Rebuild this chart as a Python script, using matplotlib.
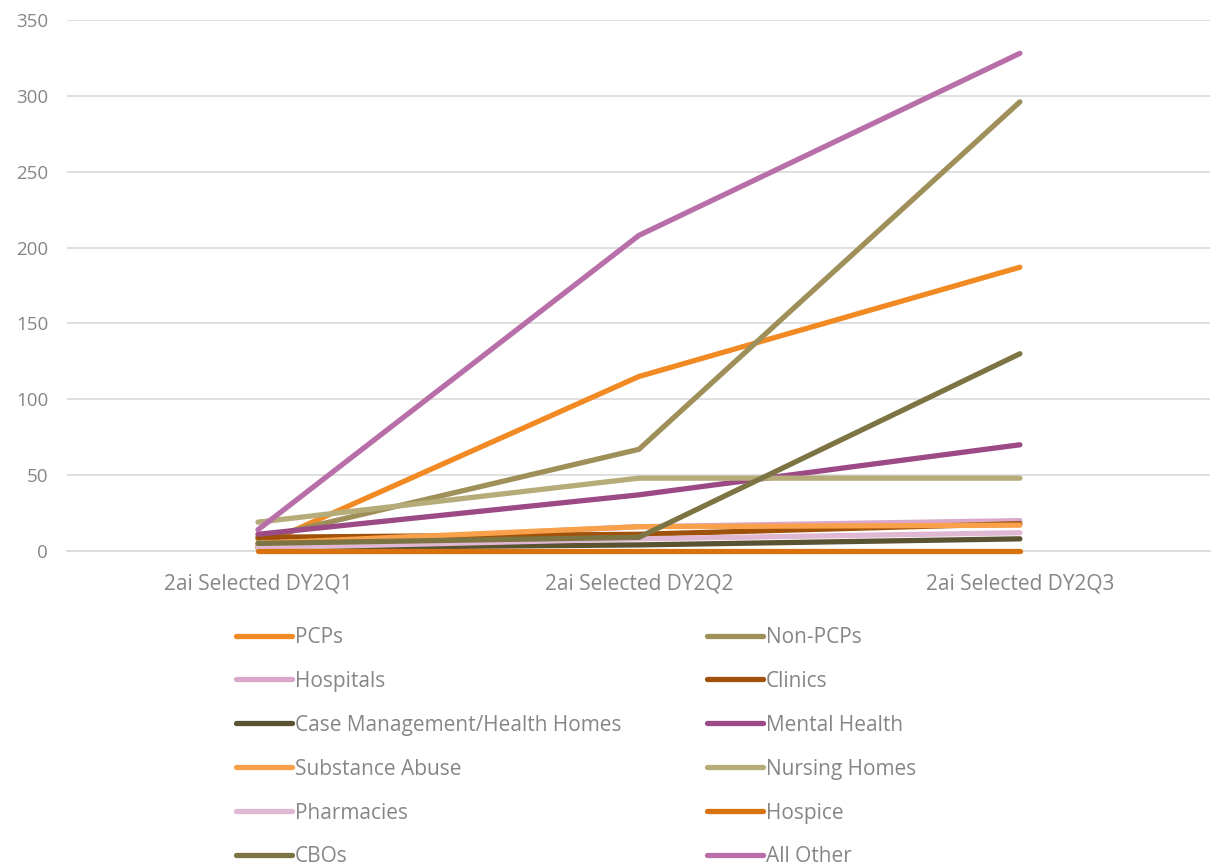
import matplotlib
matplotlib.use('Agg')
import matplotlib.pyplot as plt
from matplotlib.ticker import MultipleLocator

plt.rcParams['font.family'] = ['Open Sans', 'DejaVu Sans']

quarters = ['2ai Selected DY2Q1', '2ai Selected DY2Q2', '2ai Selected DY2Q3']

pcps = [3, 115, 187]
non_pcps = [8, 67, 296]
hospitals = [4, 16, 20]
clinics = [9, 11, 18]
case_mgmt = [2, 4, 8]
mental_health = [11, 37, 70]
substance_abuse = [5, 16, 17]
nursing_homes = [19, 48, 48]
pharmacies = [2, 8, 12]
hospice = [0, 0, 0]
cbos = [5, 9, 130]
all_other = [14, 208, 328]

series = [
    ('PCPs', pcps, '#F28A24'),
    ('Non-PCPs', non_pcps, '#9E9058'),
    ('Hospitals', hospitals, '#D8A7C9'),
    ('Clinics', clinics, '#A0520B'),
    ('Case Management/Health Homes', case_mgmt, '#5A5332'),
    ('Mental Health', mental_health, '#9B4A86'),
    ('Substance Abuse', substance_abuse, '#F9A04A'),
    ('Nursing Homes', nursing_homes, '#B5AC7A'),
    ('Pharmacies', pharmacies, '#E0B8D4'),
    ('Hospice', hospice, '#D8720F'),
    ('CBOs', cbos, '#7D7444'),
    ('All Other', all_other, '#B86EA8'),
]

txt = '#868686'

fig = plt.figure(figsize=(12.14, 8.67), dpi=100)
ax = fig.add_axes([0.0556, 0.3645, 0.9414, 0.6125])

handles = []
for name, vals, col in series:
    h, = ax.plot(range(len(quarters)), vals, color=col, linewidth=3.8,
                 solid_capstyle='round', label=name, clip_on=False, zorder=3)
    handles.append(h)

ax.set_xlim(-0.5, 2.5)
ax.set_ylim(0, 350)
ax.yaxis.set_major_locator(MultipleLocator(50))
ax.set_xticks(range(len(quarters)))
ax.set_xticklabels(quarters)
ax.grid(axis='y', color='#D9D9D9', linewidth=1.2)
ax.set_axisbelow(True)
for s in ['top', 'right', 'left']:
    ax.spines[s].set_visible(False)
ax.spines['bottom'].set_color('#D9D9D9')
ax.spines['bottom'].set_linewidth(1.2)
ax.spines['bottom'].set_zorder(1)
ax.tick_params(axis='y', length=0, labelsize=13.5, colors=txt, pad=14)
ax.tick_params(axis='x', length=0, labelsize=15, colors=txt, pad=16)

# legend is row-major in the reference, matplotlib fills by column
order = [0, 2, 4, 6, 8, 10, 1, 3, 5, 7, 9, 11]
leg = fig.legend([handles[i] for i in order], [series[i][0] for i in order],
                 ncol=2, loc='upper left', bbox_to_anchor=(0.194, 0.277),
                 frameon=False, fontsize=15, labelcolor=txt,
                 handlelength=2.7, handletextpad=0.15, columnspacing=4.1,
                 labelspacing=1.1, borderaxespad=0, borderpad=0)

fig.savefig('out.png', dpi=100)
